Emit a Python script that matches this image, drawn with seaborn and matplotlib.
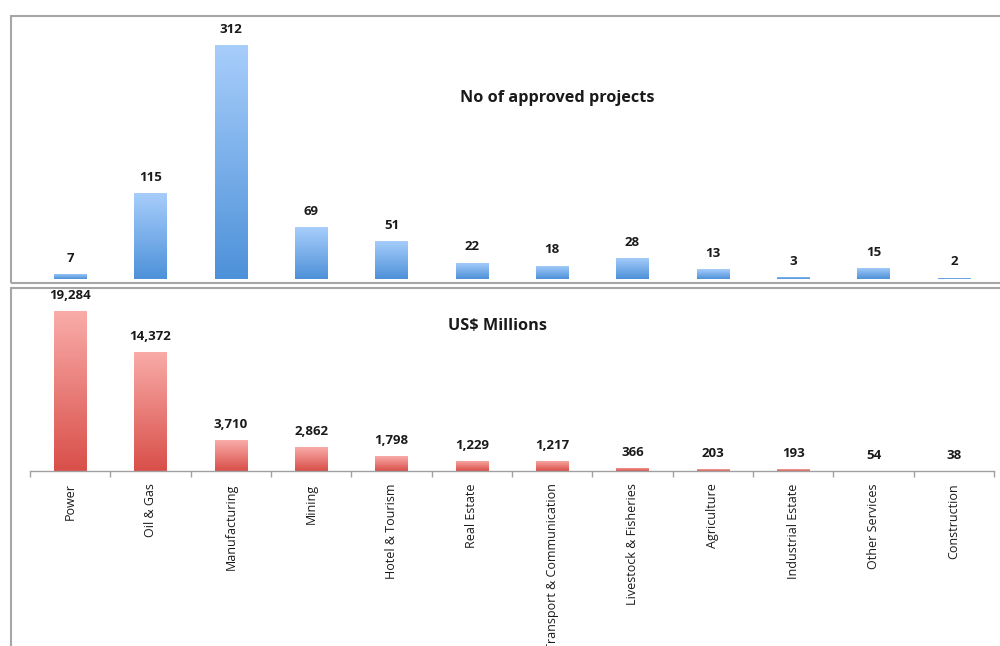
import numpy as np
import pandas as pd
import seaborn as sns
import matplotlib
matplotlib.use("Agg")
import matplotlib.pyplot as plt
from matplotlib.colors import LinearSegmentedColormap
from matplotlib.patches import Rectangle

categories = ["Power", "Oil & Gas", "Manufacturing", "Mining", "Hotel & Tourism",
              "Real Estate", "Transport & Communication", "Livestock & Fisheries",
              "Agriculture", "Industrial Estate", "Other Services", "Construction"]
projects = [7, 115, 312, 69, 51, 22, 18, 28, 13, 3, 15, 2]
investment = [19284, 14372, 3710, 2862, 1798, 1229, 1217, 366, 203, 193, 54, 38]

sns.set_theme(style="white")
plt.rcParams['font.family'] = ['Open Sans', 'DejaVu Sans']

df = pd.DataFrame({"Sector": categories, "Projects": projects, "Investment": investment})

fig = plt.figure(figsize=(10, 6.46), dpi=100)
ax1 = fig.add_axes([0.030, 0.5681, 0.964, 0.401])
ax2 = fig.add_axes([0.030, 0.2709, 0.964, 0.277])

sns.barplot(data=df, x="Sector", y="Projects", ax=ax1, color="#7fb2ea",
            width=0.4, saturation=1, errorbar=None)
sns.barplot(data=df, x="Sector", y="Investment", ax=ax2, color="#ec7f7a",
            width=0.4, saturation=1, errorbar=None)


def gradient(ax, top, bottom, values):
    cmap = LinearSegmentedColormap.from_list("g", [bottom, top])
    xl, yl = ax.get_xlim(), ax.get_ylim()
    img = np.linspace(0, 1, 256).reshape(-1, 1)
    for p, v in zip(ax.patches, values):
        x0, y0, w, h = p.get_x(), p.get_y(), p.get_width(), p.get_height()
        if h > 0:
            im = ax.imshow(img, cmap=cmap, origin="lower",
                           extent=[x0, x0 + w, y0, y0 + h], aspect="auto",
                           zorder=p.get_zorder() + 0.1, interpolation="bicubic")
            im.set_clip_path(p)
        ax.annotate(f"{v:,}", (x0 + w / 2, h), xytext=(0, 6.5),
                    textcoords="offset points", ha="center", va="bottom",
                    fontsize=9.5, fontweight="bold", color="#1a1a1a")
    ax.set_xlim(xl)
    ax.set_ylim(yl)


ax1.set_xlim(-0.5, len(categories) - 0.5)
ax2.set_xlim(-0.5, len(categories) - 0.5)
ax1.set_ylim(0, max(projects) * 1.107)
ax2.set_ylim(0, max(investment) * 1.119)

gradient(ax1, "#a8cefb", "#4d91d9", projects)
gradient(ax2, "#f9aca9", "#d94f49", investment)

ax1.set_axis_off()

for s in ["top", "left", "right"]:
    ax2.spines[s].set_visible(False)
ax2.spines["bottom"].set_color("#a0a0a0")
ax2.spines["bottom"].set_linewidth(1.0)
ax2.set_yticks([])
ax2.set_xlabel("")
ax2.set_ylabel("")
ax2.set_xticks(range(len(categories)))
ax2.set_xticklabels(categories, rotation=90, fontsize=9, va="top", ha="center",
                    color="#1a1a1a")
ax2.set_xticks(np.arange(-0.5, len(categories), 1), minor=True)
ax2.tick_params(axis="x", which="major", length=0, pad=9, bottom=True)
ax2.tick_params(axis="x", which="minor", length=4, width=1, color="#a0a0a0",
                bottom=True, direction="out")

fig.text(0.557, 1 - 98 / 646, "No of approved projects", ha="center", va="center",
         fontsize=11.7, fontweight="bold", color="#1a1a1a")
fig.text(0.498, 1 - 326 / 646, "US$ Millions", ha="center", va="center",
         fontsize=11.7, fontweight="bold", color="#1a1a1a")

# panel frames
fig.patches.append(Rectangle((0.011, 1 - 283 / 646), 1.0, (283 - 16) / 646,
                             transform=fig.transFigure, fill=False,
                             edgecolor="#a6a6a6", linewidth=1.5))
fig.patches.append(Rectangle((0.011, -0.05), 1.0, 1 - 288 / 646 + 0.05,
                             transform=fig.transFigure, fill=False,
                             edgecolor="#a6a6a6", linewidth=1.5))

fig.savefig("out.png", dpi=100, facecolor="white")
